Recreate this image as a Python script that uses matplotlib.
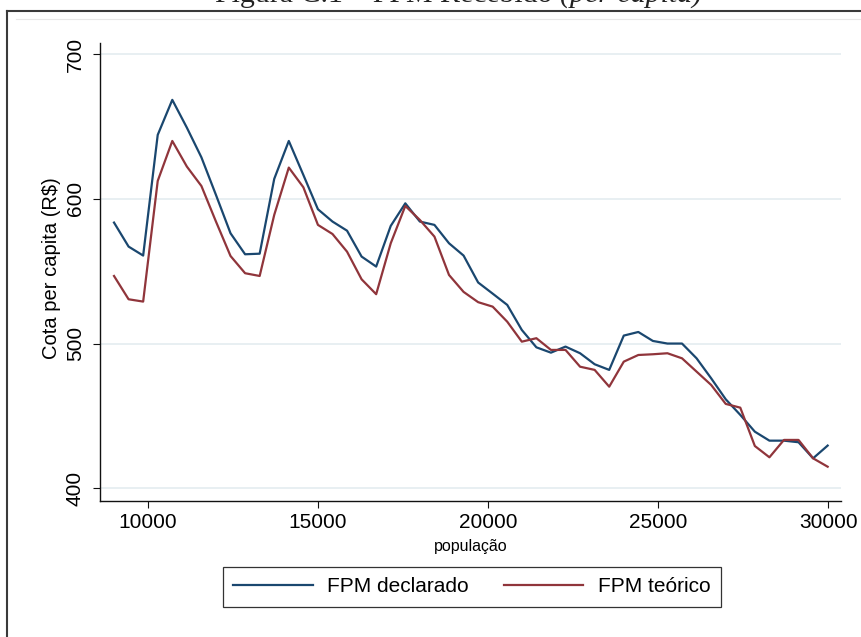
import matplotlib
matplotlib.use('Agg')
import matplotlib.pyplot as plt
from matplotlib.lines import Line2D

# populacao (centro de cada faixa) e cota per capita media
populacao = [9016, 9444, 9872, 10300, 10728, 11156, 11583, 12011, 12439, 12867,
             13295, 13723, 14151, 14579, 15007, 15435, 15862, 16290, 16718, 17146,
             17574, 18002, 18430, 18858, 19286, 19714, 20141, 20569, 20997, 21425,
             21853, 22281, 22709, 23137, 23565, 23993, 24420, 24848, 25276, 25704,
             26132, 26560, 26988, 27416, 27844, 28272, 28699, 29127, 29555, 29983]

fpm_declarado = [583.6, 567.0, 560.8, 644.2, 668.4, 649.2, 628.7, 602.7, 576.2, 561.7,
                 562.1, 613.8, 640.0, 616.5, 592.8, 584.3, 578.0, 560.1, 553.2, 581.3,
                 596.9, 584.3, 582.0, 569.3, 560.8, 542.2, 534.5, 526.7, 509.4, 497.4,
                 493.7, 497.9, 493.3, 485.7, 481.8, 505.5, 508.0, 501.8, 500.0, 500.0,
                 489.8, 476.0, 461.5, 450.7, 439.1, 432.9, 432.9, 431.8, 420.7, 429.5]

fpm_teorico = [546.7, 530.6, 529.0, 612.4, 640.0, 622.3, 608.9, 584.3, 560.5, 548.6,
               546.7, 588.9, 621.6, 608.0, 582.0, 575.7, 563.5, 544.4, 534.1, 569.3,
               595.1, 585.4, 573.9, 547.4, 535.7, 528.6, 525.5, 515.1, 501.3, 503.7,
               495.6, 495.6, 484.0, 481.8, 470.2, 487.5, 492.1, 492.6, 493.3, 489.8,
               480.6, 471.4, 458.3, 455.7, 429.2, 421.4, 433.4, 433.4, 420.7, 414.9]

xticks = [10000, 15000, 20000, 25000, 30000]
yticks = [400, 500, 600, 700]

W, H = 861, 637
plt.rcParams['font.family'] = ['Liberation Sans', 'DejaVu Sans']

fig = plt.figure(figsize=(W / 100, H / 100), dpi=100)
fig.patch.set_facecolor('white')

# moldura externa (recortada na imagem original)
fig.add_artist(Line2D([7.3 / W, 1.0], [1 - 10.5 / H, 1 - 10.5 / H],
                      transform=fig.transFigure, color='#3a3a3a', lw=1.5))
fig.add_artist(Line2D([7.3 / W, 7.3 / W], [1 - 10.5 / H, 0.0],
                      transform=fig.transFigure, color='#3a3a3a', lw=1.5))
fig.add_artist(Line2D([16 / W, 1.0], [1 - 19 / H, 1 - 19 / H],
                      transform=fig.transFigure, color='#e8e8e8', lw=0.8))

# titulo, cortado no topo como na imagem original
fig.text(560 / W, 1 - 1.8 / H, 'Figura C.1 \u2013 FPM Recebido ', ha='right', va='baseline',
         fontsize=21.5, family='Liberation Serif', color='#222222')
fig.text(560 / W, 1 - 1.8 / H, '(per capita)', ha='left', va='baseline',
         fontsize=21.5, family='Liberation Serif', style='italic', color='#222222')

ax = fig.add_axes([100 / W, (H - 501) / H, 741 / W, (501 - 42.7) / H])

for v in yticks:
    ax.axhline(v, color='#e6eef1', lw=1.3, zorder=0)

ax.plot(populacao, fpm_declarado, color='#1a476f', lw=1.6, label='FPM declarado')
ax.plot(populacao, fpm_teorico, color='#90353b', lw=1.6, label='FPM teórico')

ax.set_xlim(8604, 30375)
ax.set_ylim(391.2, 707.9)
ax.set_xticks(xticks)
ax.set_yticks(yticks)
ax.set_xticklabels([str(t) for t in xticks], fontsize=15)
ax.set_yticklabels([str(t) for t in yticks], fontsize=15, rotation=90, va='center')

for s in ['top', 'right']:
    ax.spines[s].set_visible(False)
for s in ['left', 'bottom']:
    ax.spines[s].set_color('#111111')
    ax.spines[s].set_linewidth(1.0)
ax.tick_params(direction='out', length=5, width=0.8, color='#111111')
ax.tick_params(axis='x', pad=4)
ax.tick_params(axis='y', pad=6)

ax.set_xlabel('população', fontsize=11.5)
ax.xaxis.set_label_coords(0.5, -(546 - 501) / (501 - 42.7))
ax.xaxis.label.set_va('center')
ax.set_ylabel('Cota per capita (R$)', fontsize=14.5)
ax.yaxis.label.set_va('center')
ax.yaxis.set_label_coords(-(100 - 51.7) / 741, (501 - 268) / (501 - 42.7))

leg = fig.legend(loc='center', bbox_to_anchor=(472 / W, 1 - 587 / H), ncol=2,
                 fontsize=15, frameon=True, fancybox=False, handlelength=3.8,
                 handletextpad=0.7, columnspacing=1.7, borderpad=0.5)
leg.get_frame().set_edgecolor('black')
leg.get_frame().set_linewidth(0.9)

fig.savefig('out.png', dpi=100)
